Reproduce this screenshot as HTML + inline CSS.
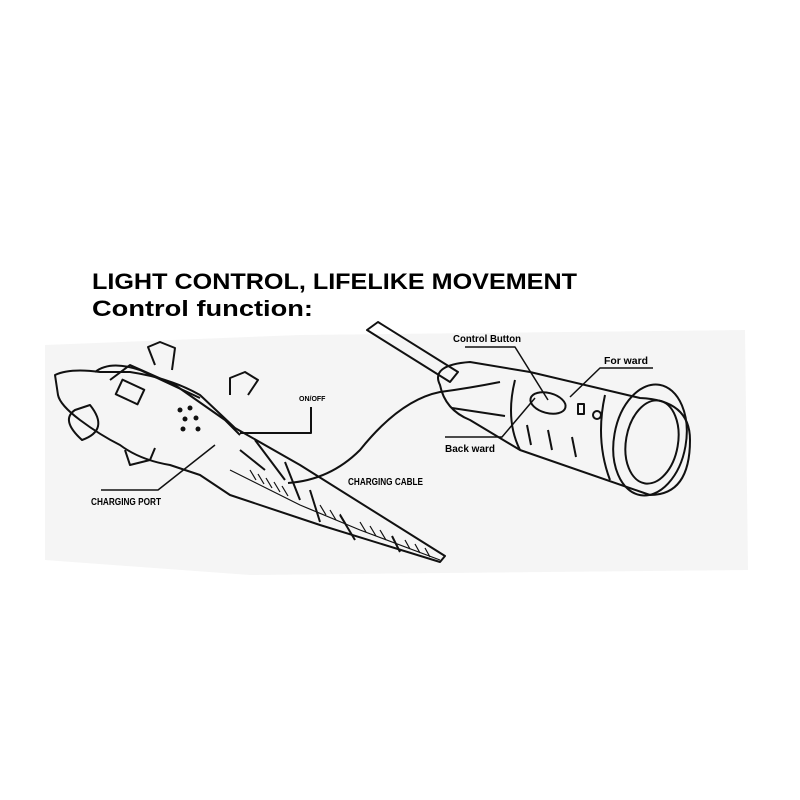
<!DOCTYPE html>
<html><head><style>
body{margin:0;background:#fff;width:800px;height:800px;overflow:hidden}
svg{display:block}
.t{font-family:"Liberation Sans",sans-serif;font-weight:bold}
</style></head><body>
<svg width="800" height="800" viewBox="0 0 800 800">
<path d="M45 345 L300 335 L745 330 L748 570 L250 575 L45 560 Z" fill="#f5f5f5"/>
<text class="t" x="92" y="289" font-size="22" textLength="485" lengthAdjust="spacingAndGlyphs">LIGHT CONTROL, LIFELIKE MOVEMENT</text>
<text class="t" x="92" y="316" font-size="22" textLength="221" lengthAdjust="spacingAndGlyphs">Control function:</text>
<g fill="none" stroke="#111" stroke-width="2" stroke-linejoin="round">
<!-- croc body -->
<path d="M55 375 Q70 368 100 372 L130 372 Q170 378 200 395 L235 428 L300 465 L445 556 L440 562 L320 525 L230 495 L200 475 L170 465 Q140 460 120 445 Q100 435 80 420 Q60 405 58 395 Z"/>
<path d="M95 372 Q110 360 140 370 L200 398"/>
<path d="M110 380 L130 365 L175 385 L225 420 L240 435"/>
<rect x="118" y="384" width="24" height="16" transform="rotate(25 130 392)"/>
<path d="M75 410 Q60 420 82 440 Q110 430 90 405 Z"/>
<path d="M155 365 L148 347 L160 342 L175 348 L172 370"/>
<path d="M230 395 L230 378 L245 372 L258 380 L248 395"/>
<path d="M125 450 L130 465 L150 460 L155 448"/>
<path d="M240 450 L265 470 M255 440 L285 480 M285 462 L300 500 M310 490 L320 522 M340 515 L355 540 M392 536 L400 552"/>
<path d="M230 470 L300 505 L360 530 L440 560" stroke-width="1.2"/>
<g stroke-width="1.2">
<path d="M250 470 l6 10 M258 474 l6 10 M266 478 l6 10 M274 482 l6 10 M282 486 l6 10 M320 505 l6 10 M330 510 l6 10 M340 514 l6 10 M360 522 l6 10 M370 526 l6 10 M380 530 l6 10 M405 540 l5 9 M415 544 l5 9 M425 548 l5 9"/>
</g>
<!-- cable -->
<path d="M288 483 Q330 480 360 450 Q400 400 440 392 Q470 388 500 382"/>
<!-- flashlight -->
<path d="M440 385 Q430 365 470 362 L530 372 L640 398 Q690 400 690 440 Q690 495 650 495 L520 450 L470 420 Q445 410 440 385 Z"/>
<ellipse cx="650" cy="440" rx="36" ry="56" transform="rotate(10 650 440)"/>
<ellipse cx="652" cy="442" rx="26" ry="42" transform="rotate(10 652 442)"/>
<ellipse cx="548" cy="403" rx="18" ry="10" transform="rotate(15 548 403)"/>
<path d="M515 380 Q505 420 520 450 M605 395 Q595 440 610 480"/>
<path d="M527 425 l4 20 M548 430 l4 20 M572 437 l4 20"/>
<path d="M367 330 L378 322 L458 372 L450 382 Z"/>
<path d="M452 408 L505 416"/>
<circle cx="597" cy="415" r="4"/>
<rect x="578" y="404" width="6" height="10"/>
<!-- label lines -->
<path d="M240 433 L311 433 L311 407"/>
<path d="M101 490 L158 490 L215 445" stroke-width="1.5"/>
<path d="M465 347 L515 347 L548 400" stroke-width="1.5"/>
<path d="M570 397 L600 368 L653 368" stroke-width="1.5"/>
<path d="M445 437 L502 437 L535 398" stroke-width="1.5"/>
</g>
<g fill="#111">
<circle cx="180" cy="410" r="2.5"/><circle cx="190" cy="408" r="2.5"/><circle cx="185" cy="419" r="2.5"/><circle cx="196" cy="418" r="2.5"/><circle cx="183" cy="429" r="2.5"/><circle cx="198" cy="429" r="2.5"/>
</g>
<text class="t" x="299" y="401" font-size="7">ON/OFF</text>
<text class="t" x="91" y="505" font-size="10" textLength="70" lengthAdjust="spacingAndGlyphs">CHARGING PORT</text>
<text class="t" x="348" y="485" font-size="10" textLength="75" lengthAdjust="spacingAndGlyphs">CHARGING CABLE</text>
<text class="t" x="453" y="342" font-size="10" textLength="68" lengthAdjust="spacingAndGlyphs">Control Button</text>
<text class="t" x="604" y="364" font-size="10" textLength="44" lengthAdjust="spacingAndGlyphs">For ward</text>
<text class="t" x="445" y="452" font-size="10" textLength="50" lengthAdjust="spacingAndGlyphs">Back ward</text>
</svg>
</body></html>
